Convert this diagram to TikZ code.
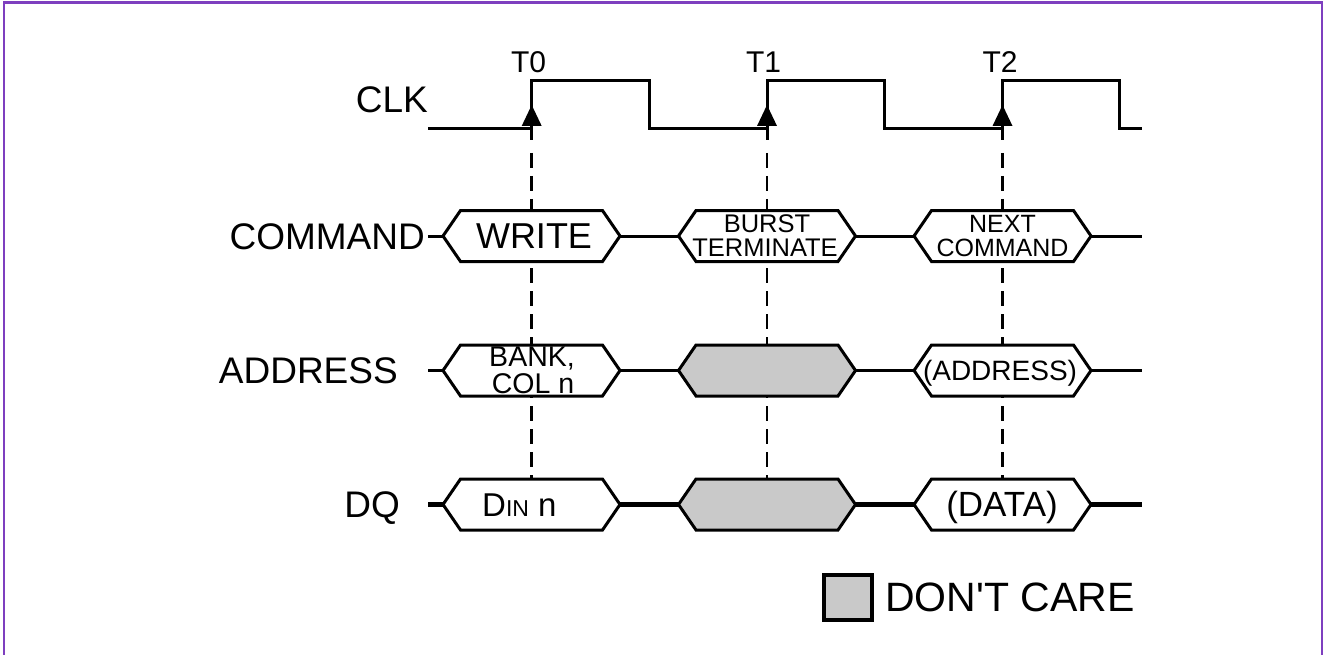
\documentclass[tikz,border=0pt]{standalone}
\usepackage{fontspec}
\setmainfont{Liberation Sans}
\definecolor{framecol}{HTML}{7E3FBF}
\definecolor{dccol}{HTML}{C9C9C9}
\newcommand\bushex[4]{%
  \coordinate (#3L) at ({#1-88.5},#2);
  \coordinate (#3R) at ({#1+88.5},#2);
  \draw[hexbox, fill=#4] (#3L) -- ({#1-71},{#2-25.5}) -- ({#1+71},{#2-25.5}) -- (#3R)
     -- ({#1+71},{#2+25.5}) -- ({#1-71},{#2+25.5}) -- cycle;}
\newcommand\fs[1]{\fontsize{#1}{#1}\selectfont}
\begin{document}
\begin{tikzpicture}[x=1pt,y=-1pt,line join=miter]
\tikzset{
  sig/.style={line width=3pt},
  dqsig/.style={line width=4.5pt},
  guide/.style={line width=2.5pt, dash pattern=on 15pt off 8pt},
  hexbox/.style={line width=3pt},
  lbl/.style={anchor=base east, inner sep=0pt, font=\fs{37}},
  txt/.style={anchor=base, inner sep=0pt},
}
\useasboundingbox (0,0) rectangle (1327,655);
% frame
\draw[framecol, line width=2.5pt] (4,670) -- (4,2.5) -- (1322,2.5) -- (1322,670);

% labels
\node[lbl] (lclk) at (428,113) {CLK};
\node[lbl] (lcmd) at (425,249) {COMMAND};
\node[lbl] (laddr) at (398,383) {ADDRESS};
\node[lbl] (ldq) at (400,517) {DQ};

% time labels
\node[txt, font=\fs{30}] (t0) at (528.5,72.3) {T0};
\node[txt, font=\fs{30}] (t1) at (763.5,72.3) {T1};
\node[txt, font=\fs{30}] (t2) at (1000,72.3) {T2};

% guides
\foreach \x/\n in {531.7/g0,767/g1,1002.5/g2}{
  \coordinate (\n a) at (\x,153);
  \coordinate (\n b) at (\x,480);
  \draw[guide] (\n a) -- (\n b);
  \draw[sig] (\x,140) -- (\x,126);
  \fill ({\x-10},126) -- (\x,105) -- ({\x+10},126) -- cycle;
}

% clock
\coordinate (clkS) at (428,129);
\coordinate (clkE) at (1142,129);
\draw[sig] (clkS) -- (531.7,129) -- (531.7,80.7) -- (649,80.7) -- (649,129)
  -- (767,129) -- (767,80.7) -- (884,80.7) -- (884,129)
  -- (1002.5,129) -- (1002.5,80.7) -- (1119,80.7) -- (1119,129) -- (clkE);

% bus rows
\coordinate (cmdS) at (428,236);  \coordinate (cmdE) at (1142,236);
\coordinate (addS) at (428,370.5); \coordinate (addE) at (1142,370.5);
\coordinate (dqS) at (428,504.5);  \coordinate (dqE) at (1142,504.5);

\draw[sig] (cmdS) -- (443,236);
\draw[sig] (619,236) -- (679,236);
\draw[sig] (855,236) -- (914,236);
\draw[sig] (1090,236) -- (cmdE);
\draw[sig] (addS) -- (443,370.5);
\draw[sig] (619,370.5) -- (679,370.5);
\draw[sig] (855,370.5) -- (914,370.5);
\draw[sig] (1090,370.5) -- (addE);
\draw[dqsig] (dqS) -- (443,504.5);
\draw[dqsig] (619,504.5) -- (679,504.5);
\draw[dqsig] (855,504.5) -- (914,504.5);
\draw[dqsig] (1090,504.5) -- (dqE);

\bushex{531.5}{236}{c0}{white}
\bushex{767}{236}{c1}{white}
\bushex{1002.5}{236}{c2}{white}
\bushex{531.5}{370.5}{a0}{white}
\bushex{767}{370.5}{a1}{dccol}
\bushex{1002.5}{370.5}{a2}{white}
\bushex{531.5}{504.5}{d0}{white}
\bushex{767}{504.5}{d1}{dccol}
\bushex{1002.5}{504.5}{d2}{white}

% box texts
\node[txt, font=\fs{36}] (twrite) at (534,248.3) {WRITE};
\node[txt, font=\fs{25.5}] (tburst) at (767,233) {BURST};
\node[txt, font=\fs{25.5}] (tterm) at (765,256) {TERMINATE};
\node[txt, font=\fs{25}] (tnext) at (1002.5,233) {NEXT};
\node[txt, font=\fs{25}] (tncmd) at (1002.5,256) {COMMAND};
\node[txt, font=\fs{28.5}] (tbank) at (532,366.5) {BANK,};
\node[txt, font=\fs{28.5}] (tcol) at (533,393) {COL n};
\node[txt, font=\fs{28}] (taddr) at (1000,380) {(ADDRESS)};
\node[anchor=base west, inner sep=0pt, font=\fs{33}] (tdin) at (482,516)
  {D{\fs{23}IN} n};
\node[txt, font=\fs{35}] (tdata) at (1002,516) {(DATA)};

% legend
\node[draw, line width=4pt, fill=dccol, minimum width=48pt, minimum height=45pt,
  inner sep=0pt] (legbox) at (848,597) {};
\node[anchor=west, inner sep=0pt, font=\fs{41}] (legtxt) at (885,597) {DON\textquotesingle T CARE};
\end{tikzpicture}
\end{document}
